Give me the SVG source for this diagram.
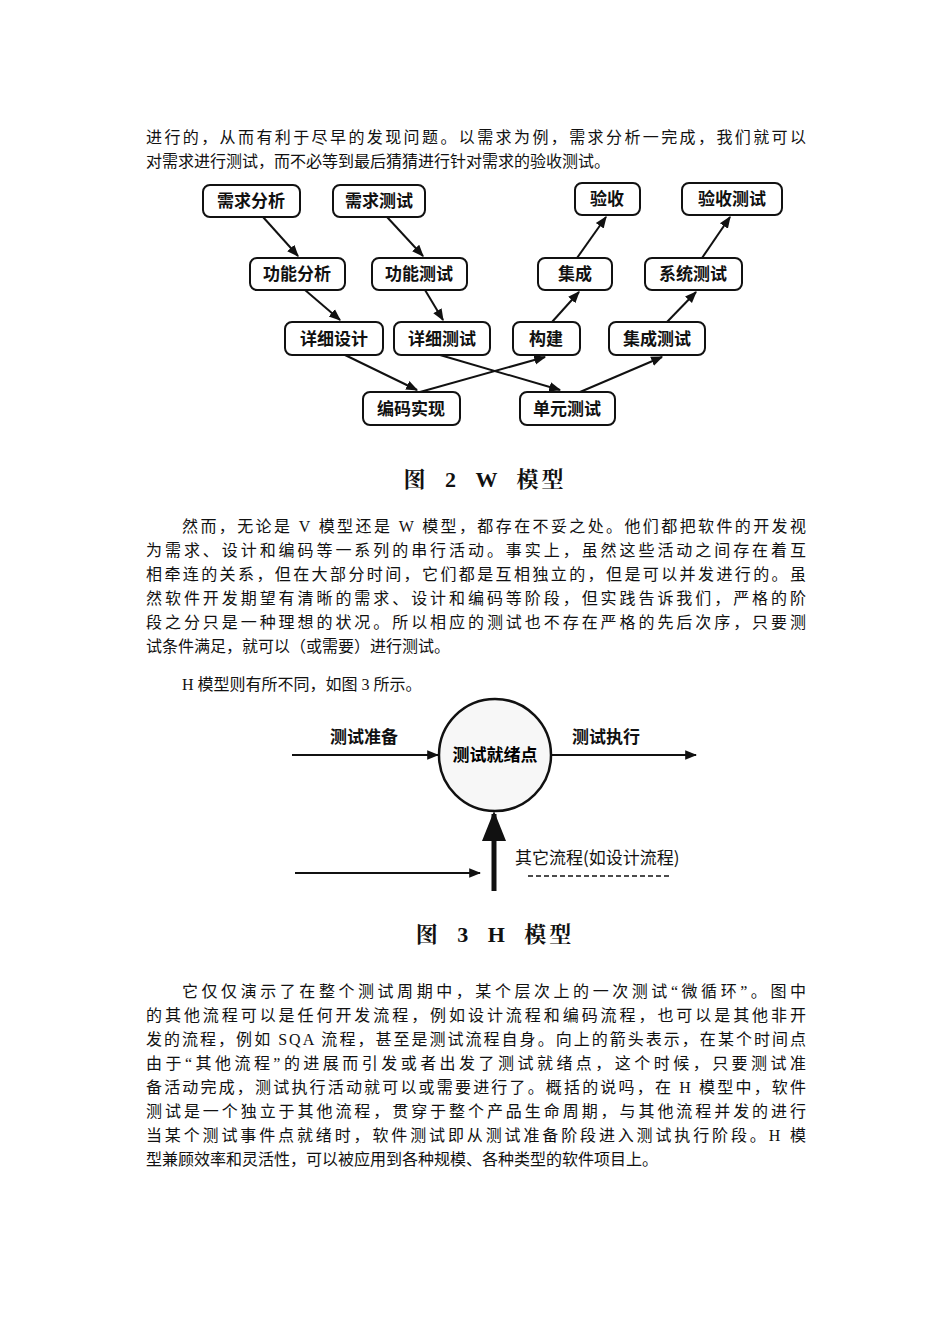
<svg xmlns="http://www.w3.org/2000/svg" width="950" height="1344" viewBox="0 0 950 1344">
<style>
.t{font-family:"Liberation Serif","Noto Sans CJK SC",serif;font-size:16px;fill:#111}
.b rect{fill:#fff;stroke:#111;stroke-width:2}
.b text{font-family:"Noto Sans CJK SC",sans-serif;font-size:17px;font-weight:bold;text-anchor:middle;fill:#111}
.c line{stroke:#111;stroke-width:2;marker-end:url(#a)}
.cap{font-family:"Liberation Serif","Noto Serif CJK SC","Noto Sans CJK SC",serif;font-size:22px;font-weight:bold;text-anchor:middle;fill:#111;letter-spacing:3px;word-spacing:8px}
</style>
<defs><marker id="a" viewBox="0 0 10 10" refX="9" refY="5" markerWidth="6" markerHeight="6" orient="auto"><path d="M0,1 L10,5 L0,9 z" fill="#111"/></marker></defs>
<rect width="950" height="1344" fill="#fff"/>
<text class="t" x="146" y="143" textLength="660">进行的，从而有利于尽早的发现问题。以需求为例，需求分析一完成，我们就可以</text>
<text class="t" x="146" y="167">对需求进行测试，而不必等到最后猜猜进行针对需求的验收测试。</text>
<g id="n1" class="b"><rect x="203" y="185" width="97" height="32" rx="7"/><text x="251" y="207">需求分析</text></g>
<g id="n2" class="b"><rect x="333" y="185" width="92" height="32" rx="7"/><text x="379" y="207">需求测试</text></g>
<g id="n3" class="b"><rect x="575" y="183" width="65" height="32" rx="7"/><text x="607" y="205">验收</text></g>
<g id="n4" class="b"><rect x="682" y="183" width="100" height="32" rx="7"/><text x="732" y="205">验收测试</text></g>
<g id="n5" class="b"><rect x="250" y="258" width="95" height="32" rx="7"/><text x="297" y="280">功能分析</text></g>
<g id="n6" class="b"><rect x="372" y="258" width="95" height="32" rx="7"/><text x="419" y="280">功能测试</text></g>
<g id="n7" class="b"><rect x="538" y="258" width="74" height="32" rx="7"/><text x="575" y="280">集成</text></g>
<g id="n8" class="b"><rect x="645" y="258" width="97" height="32" rx="7"/><text x="693" y="280">系统测试</text></g>
<g id="n9" class="b"><rect x="285" y="322" width="98" height="33" rx="7"/><text x="334" y="345">详细设计</text></g>
<g id="n10" class="b"><rect x="394" y="322" width="96" height="33" rx="7"/><text x="442" y="345">详细测试</text></g>
<g id="n11" class="b"><rect x="513" y="322" width="67" height="33" rx="7"/><text x="546" y="345">构建</text></g>
<g id="n12" class="b"><rect x="609" y="322" width="96" height="33" rx="7"/><text x="657" y="345">集成测试</text></g>
<g id="n13" class="b"><rect x="363" y="392" width="97" height="33" rx="7"/><text x="411" y="415">编码实现</text></g>
<g id="n14" class="b"><rect x="520" y="392" width="95" height="33" rx="7"/><text x="567" y="415">单元测试</text></g>
<g id="w-edges" class="c">
<line x1="263" y1="217" x2="298" y2="256"/>
<line x1="387" y1="217" x2="423" y2="256"/>
<line x1="305" y1="290" x2="340" y2="320"/>
<line x1="425" y1="290" x2="443" y2="320"/>
<line x1="345" y1="355" x2="417" y2="390"/>
<line x1="440" y1="355" x2="560" y2="390"/>
<line x1="420" y1="392" x2="545" y2="357"/>
<line x1="580" y1="392" x2="662" y2="357"/>
<line x1="552" y1="322" x2="579" y2="292"/>
<line x1="577" y1="258" x2="606" y2="217"/>
<line x1="667" y1="322" x2="696" y2="292"/>
<line x1="702" y1="258" x2="730" y2="217"/>
</g>
<text class="cap" x="485" y="487">图 2 W 模型</text>
<g class="t">
<text x="182" y="532" textLength="624">然而，无论是 V 模型还是 W 模型，都存在不妥之处。他们都把软件的开发视</text>
<text x="146" y="556" textLength="660">为需求、设计和编码等一系列的串行活动。事实上，虽然这些活动之间存在着互</text>
<text x="146" y="580" textLength="660">相牵连的关系，但在大部分时间，它们都是互相独立的，但是可以并发进行的。虽</text>
<text x="146" y="604" textLength="660">然软件开发期望有清晰的需求、设计和编码等阶段，但实践告诉我们，严格的阶</text>
<text x="146" y="628" textLength="660">段之分只是一种理想的状况。所以相应的测试也不存在严格的先后次序，只要测</text>
<text x="146" y="652">试条件满足，就可以（或需要）进行测试。</text>
<text x="182" y="690">H 模型则有所不同，如图 3 所示。</text>
</g>
<g id="hub"><circle cx="495" cy="755" r="56" fill="#f7f7f7" stroke="#111" stroke-width="2.5"/>
<text x="495" y="761" style="font-family:'Noto Sans CJK SC',sans-serif;font-size:17px;font-weight:bold;text-anchor:middle">测试就绪点</text></g>
<g id="h-edges" class="c">
<line x1="292" y1="755" x2="438" y2="755"/>
<line x1="550" y1="755" x2="696" y2="755"/>
<line x1="295" y1="873" x2="480" y2="873"/>
<line x1="494" y1="891" x2="494" y2="814" style="stroke-width:5"/>
</g>
<g style="font-family:'Noto Sans CJK SC',sans-serif;font-size:17px;font-weight:bold;fill:#111">
<text x="330" y="743">测试准备</text>
<text x="572" y="743">测试执行</text>
<text x="515" y="864" style="font-weight:normal">其它流程(如设计流程)</text>
</g>
<line x1="528" y1="876" x2="672" y2="876" stroke="#111" stroke-width="1.5" stroke-dasharray="5,3"/>
<text class="cap" x="495" y="942">图 3 H 模型</text>
<g class="t">
<text x="182" y="997" textLength="624">它仅仅演示了在整个测试周期中，某个层次上的一次测试“微循环”。图中</text>
<text x="146" y="1021" textLength="660">的其他流程可以是任何开发流程，例如设计流程和编码流程，也可以是其他非开</text>
<text x="146" y="1045" textLength="660">发的流程，例如 SQA 流程，甚至是测试流程自身。向上的箭头表示，在某个时间点</text>
<text x="146" y="1069" textLength="660">由于“其他流程”的进展而引发或者出发了测试就绪点，这个时候，只要测试准</text>
<text x="146" y="1093" textLength="660">备活动完成，测试执行活动就可以或需要进行了。概括的说吗，在 H 模型中，软件</text>
<text x="146" y="1117" textLength="660">测试是一个独立于其他流程，贯穿于整个产品生命周期，与其他流程并发的进行</text>
<text x="146" y="1141" textLength="660">当某个测试事件点就绪时，软件测试即从测试准备阶段进入测试执行阶段。H 模</text>
<text x="146" y="1165">型兼顾效率和灵活性，可以被应用到各种规模、各种类型的软件项目上。</text>
</g>
</svg>
